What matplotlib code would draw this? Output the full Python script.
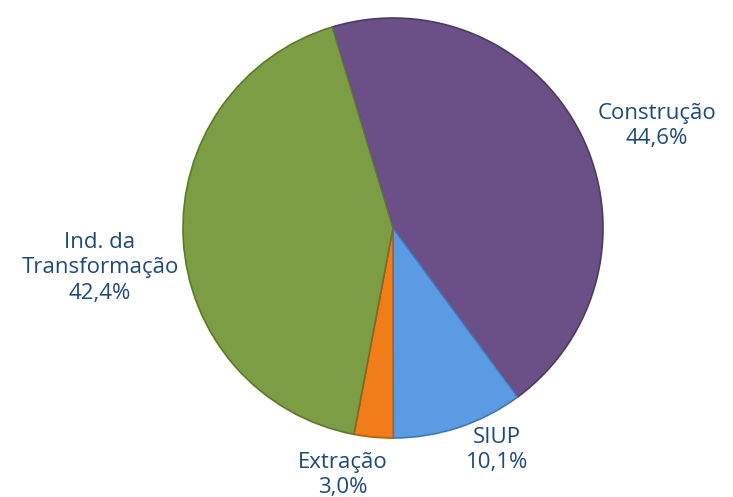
import matplotlib.pyplot as plt

labels = ['Construção', 'SIUP', 'Extração', 'Ind. da\nTransformação']
values = [44.6, 10.1, 3.0, 42.4]
colors = ['#6A5086', '#5A9BE3', '#F07D19', '#7D9D45']
edges = ['#4E3A66', '#3F78B8', '#B85C0F', '#5C7732']

plt.rcParams['font.family'] = ['Open Sans', 'DejaVu Sans']

fig = plt.figure(figsize=(7.33, 4.97), dpi=100)
ax = fig.add_axes([0, 0, 1, 1])

wedges, _ = ax.pie(values, colors=colors, startangle=106.8, counterclock=False,
                   center=(393, 269), radius=210, frame=True,
                   wedgeprops=dict(linewidth=1.2))
for w, e in zip(wedges, edges):
    w.set_edgecolor(e)
ax.axis('off')
ax.set_xlim(0, 733)
ax.set_ylim(0, 497)
ax.set_aspect('equal')

txt = dict(color='#1F497D', fontsize=16, ha='center', va='center', linespacing=1.3)
pos = [(657, 371), (497, 47), (343, 22), (100, 229)]
for lab, v, (x, y) in zip(labels, values, pos):
    s = lab + '\n' + f'{v:.1f}'.replace('.', ',') + '%'
    ax.text(x, y, s, **txt)

fig.savefig('out.png', dpi=100)
